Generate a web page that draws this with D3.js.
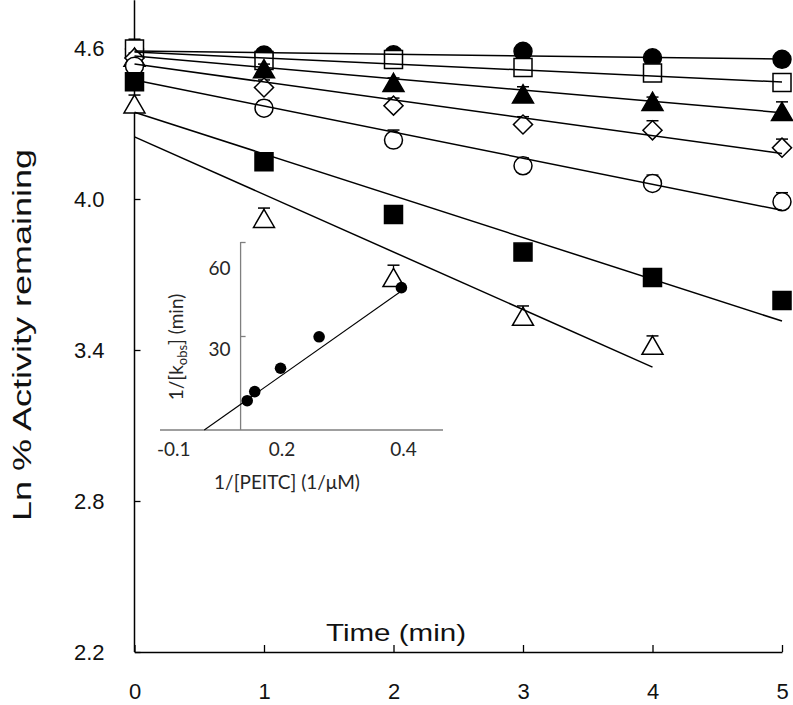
<!DOCTYPE html>
<html><head><meta charset="utf-8">
<script src="https://cdn.jsdelivr.net/npm/d3@7"></script>
<style>body{margin:0;background:#fff}svg{display:block}</style>
</head><body>
<svg id="chart" width="793" height="705"></svg>
<script>
// ---------- main chart data ----------
const times = [0, 1, 2, 3, 4, 5];
const xTicks = [0, 1, 2, 3, 4, 5];
const yTicks = [2.2, 2.8, 3.4, 4.0, 4.6];

const filledCircle   = [4.596, 4.572, 4.573, 4.587, 4.561, 4.555];
const openSquare     = [4.596, 4.550, 4.554, 4.523, 4.501, 4.463];
const filledTriangle = [4.552, 4.506, 4.451, 4.406, 4.376, 4.336];
const openDiamond    = [4.560, 4.443, 4.371, 4.296, 4.273, 4.204];
const openCircle     = [4.528, 4.361, 4.234, 4.132, 4.062, 3.989];
const filledSquare   = [4.466, 4.148, 3.938, 3.789, 3.688, 3.597];
const openTriangle   = [4.366, 3.911, 3.676, 3.522, 3.407];

const filledCircleErr   = [0.00, 0.00, 0.00, 0.00, 0.00, 0.00];
const openSquareErr     = [0.039, 0.01, 0.01, 0.01, 0.01, 0.01];
const filledTriangleErr = [0.02, 0.03, 0.03, 0.040, 0.029, 0.050];
const openDiamondErr    = [0.02, 0.03, 0.03, 0.031, 0.038, 0.034];
const openCircleErr     = [0.02, 0.03, 0.040, 0.031, 0.033, 0.036];
const filledSquareErr   = [0.01, 0.01, 0.01, 0.01, 0.01, 0.01];
const openTriangleErr   = [0.047, 0.053, 0.061, 0.053, 0.049];

// linear fits: intercept, slope (per min), end time
const fitIntercept = [4.588, 4.584, 4.568, 4.536, 4.473, 4.345, 4.247];
const fitSlope     = [-0.0064, -0.0238, -0.045, -0.071, -0.1036, -0.166, -0.2288];
const fitEnd       = [5, 5, 5, 5, 5, 5, 4];

// ---------- inset data ----------
const insetX = [0.1436, 0.156, 0.1985, 0.262, 0.3975];
const insetY = [10.9, 14.3, 23.0, 34.7, 53.0];
const insetFitIntercept = -11.62;
const insetFitSlope = 159.4;
const insetFitRange = [0.0729, 0.3975];
const insetYLabels = [30, 60];
const insetYTickMarks = [35, 70];
const insetXLabelPos = [0.0219, 0.2, 0.4];
const insetXLabels = ["-0.1", "0.2", "0.4"];
const insetYAxisCross = 0.1327;

// ---------- drawing ----------
const svg = d3.select("#chart");
const x = d3.scaleLinear().domain([0, 5]).range([134.5, 782]);
const y = d3.scaleLinear().domain([2.2, 4.6]).range([652, 48]);
const yAxisTop = 4.79;
const mainFont = "Liberation Sans, Arial, sans-serif";

// axes
const gx = svg.append("g").attr("transform", `translate(0,${y(2.2)})`)
  .call(d3.axisBottom(x).tickValues(xTicks).tickFormat(d3.format("d"))
    .tickSizeInner(-7).tickSizeOuter(0).tickPadding(31));
gx.select(".domain").attr("stroke", "#000").attr("stroke-width", 1.5);
gx.selectAll(".tick line").attr("stroke", "#000").attr("stroke-width", 1.3);
gx.selectAll("text").attr("font-family", mainFont).attr("font-size", 22).attr("fill", "#111");

const gy = svg.append("g").attr("transform", `translate(${x(0)},0)`)
  .call(d3.axisLeft(y).tickValues(yTicks).tickFormat(d3.format(".1f"))
    .tickSizeInner(-6).tickSizeOuter(0).tickPadding(30));
gy.select(".domain").remove();
gy.append("line").attr("x1", 0).attr("x2", 0).attr("y1", y(2.2)).attr("y2", y(yAxisTop))
  .attr("stroke", "#000").attr("stroke-width", 1.5);
gy.selectAll(".tick line").attr("stroke", "#000").attr("stroke-width", 1.3);
gy.selectAll("text").attr("font-family", mainFont).attr("font-size", 22).attr("fill", "#111");

svg.append("text").attr("x", 396).attr("y", 641)
  .attr("text-anchor", "middle").attr("font-family", mainFont).attr("fill", "#111")
  .attr("font-size", 24).attr("textLength", 140).attr("lengthAdjust", "spacingAndGlyphs")
  .text("Time (min)");

svg.append("text").attr("transform", "translate(31,335) rotate(-90)")
  .attr("text-anchor", "middle").attr("font-family", mainFont).attr("fill", "#111")
  .attr("font-size", 25).attr("textLength", 372).attr("lengthAdjust", "spacingAndGlyphs")
  .text("Ln % Activity remaining");

// series (drawing order matters)
const series = [
  {vals: filledCircle,   err: filledCircleErr,   shape: d3.symbolCircle,   size: 254, fill: "#000", rot: 0},
  {vals: openSquare,     err: openSquareErr,     shape: d3.symbolSquare,   size: 324, fill: "#fff", rot: 0},
  {vals: filledTriangle, err: filledTriangleErr, shape: d3.symbolTriangle, size: 191, fill: "#000", rot: 0},
  {vals: openDiamond,    err: openDiamondErr,    shape: d3.symbolSquare,   size: 182, fill: "#fff", rot: 45},
  {vals: openCircle,     err: openCircleErr,     shape: d3.symbolCircle,   size: 254, fill: "#fff", rot: 0},
  {vals: filledSquare,   err: filledSquareErr,   shape: d3.symbolSquare,   size: 324, fill: "#000", rot: 0},
  {vals: openTriangle,   err: openTriangleErr,   shape: d3.symbolTriangle, size: 191, fill: "#fff", rot: 0}
];

const gm = svg.append("g");
series.forEach(s => {
  const pts = s.vals.map((v, i) => ({t: times[i], v, e: s.err[i]}));
  const g = gm.append("g");
  pts.filter(p => p.e > 0).forEach(p => {
    g.append("line").attr("x1", x(p.t)).attr("x2", x(p.t)).attr("y1", y(p.v)).attr("y2", y(p.v + p.e))
      .attr("stroke", "#000").attr("stroke-width", 1.3);
    g.append("line").attr("x1", x(p.t) - 6).attr("x2", x(p.t) + 6).attr("y1", y(p.v + p.e)).attr("y2", y(p.v + p.e))
      .attr("stroke", "#000").attr("stroke-width", 1.5);
  });
  g.selectAll("path.m").data(pts).join("path").attr("class", "m")
    .attr("d", d3.symbol().type(s.shape).size(s.size))
    .attr("transform", p => `translate(${x(p.t)},${y(p.v)}) rotate(${s.rot})`)
    .attr("fill", s.fill).attr("stroke", "#000").attr("stroke-width", 1.5);
});

// fit lines
const gl = svg.append("g");
fitIntercept.forEach((b, i) => {
  gl.append("line")
    .attr("x1", x(0)).attr("y1", y(b))
    .attr("x2", x(fitEnd[i])).attr("y2", y(b + fitSlope[i] * fitEnd[i]))
    .attr("stroke", "#000").attr("stroke-width", 1.5);
});

// ---------- inset ----------
const ix = d3.scaleLinear().domain([0, 0.466]).range([160, 443]);
const iy = d3.scaleLinear().domain([0, 70]).range([430, 242]);
const gi = svg.append("g");
const insetFont = "Lato, 'Open Sans', sans-serif";

gi.append("line").attr("x1", ix(0)).attr("x2", ix(0.466)).attr("y1", iy(0)).attr("y2", iy(0))
  .attr("stroke", "#7f7f7f").attr("stroke-width", 1.3);
const giy = gi.append("g").attr("transform", `translate(${ix(insetYAxisCross)},0)`)
  .call(d3.axisRight(iy).tickValues(insetYTickMarks).tickFormat("").tickSizeInner(5).tickSizeOuter(0));
giy.select(".domain").remove();
giy.append("line").attr("x1", 0).attr("x2", 0).attr("y1", iy(0)).attr("y2", iy(70))
  .attr("stroke", "#7f7f7f").attr("stroke-width", 1.3);
giy.selectAll(".tick line").attr("stroke", "#7f7f7f").attr("stroke-width", 1.3);

const gil = gi.append("g").attr("transform", `translate(${ix(insetYAxisCross)},0)`)
  .call(d3.axisLeft(iy).tickValues(insetYLabels).tickFormat(d3.format("d")).tickSize(0).tickPadding(10));
gil.select(".domain").remove();
gil.selectAll("text").attr("font-family", insetFont).attr("font-size", 19).attr("fill", "#262626");

const gixl = gi.append("g").attr("transform", `translate(0,${iy(0)})`)
  .call(d3.axisBottom(ix).tickValues(insetXLabelPos).tickFormat((d, i) => insetXLabels[i]).tickSize(0).tickPadding(13));
gixl.select(".domain").remove();
gixl.selectAll("text").attr("font-family", insetFont).attr("font-size", 19).attr("fill", "#262626");

gi.append("line")
  .attr("x1", ix(insetFitRange[0])).attr("y1", iy(insetFitIntercept + insetFitSlope * insetFitRange[0]))
  .attr("x2", ix(insetFitRange[1])).attr("y2", iy(insetFitIntercept + insetFitSlope * insetFitRange[1]))
  .attr("stroke", "#000").attr("stroke-width", 1.1);

gi.selectAll("circle.d").data(insetX).join("circle").attr("class", "d")
  .attr("cx", d => ix(d)).attr("cy", (d, i) => iy(insetY[i])).attr("r", 5.8).attr("fill", "#000");

gi.append("text").attr("x", 287).attr("y", 489).attr("text-anchor", "middle")
  .attr("font-family", insetFont).attr("font-size", 19).attr("fill", "#262626")
  .text("1/[PEITC] (1/μM)");

const yt = gi.append("text").attr("transform", "translate(183,347) rotate(-90)").attr("text-anchor", "middle")
  .attr("font-family", insetFont).attr("font-size", 19).attr("fill", "#262626");
yt.append("tspan").text("1/[k");
yt.append("tspan").attr("font-size", 13).attr("dy", 4).text("obs");
yt.append("tspan").attr("dy", -4).text("] (min)");
</script>
</body></html>
